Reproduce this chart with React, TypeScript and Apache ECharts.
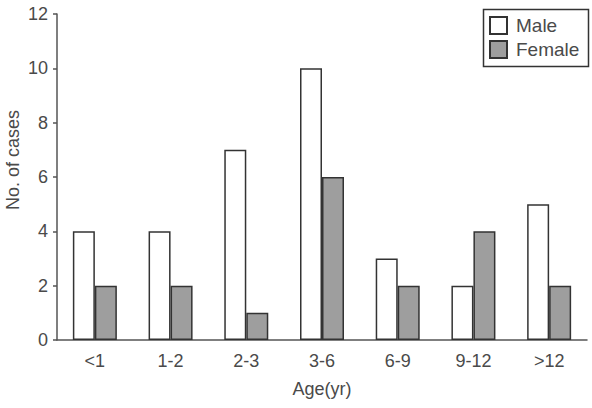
import React, { useEffect, useRef } from "react";
import * as echarts from "echarts";

const categories = ["<1", "1-2", "2-3", "3-6", "6-9", "9-12", ">12"];
const maleValues = [4, 4, 7, 10, 3, 2, 5];
const femaleValues = [2, 2, 1, 6, 2, 4, 2];
const yTicks = { min: 0, max: 12, interval: 2 };
const yTitle = "No. of cases";
const xTitle = "Age(yr)";

const FONT = "Liberation Sans, Arial, sans-serif";
const TEXT = "#4a4a4a";
const AXIS = "#555";

export default function App() {
  const ref = useRef<HTMLDivElement>(null);
  useEffect(() => {
    if (!ref.current) return;
    const chart = echarts.init(ref.current, null, { renderer: "svg" });
    chart.setOption({
      animation: false,
      backgroundColor: "#fff",
      textStyle: { fontFamily: FONT },
      grid: { left: 57, right: 5, top: 14, bottom: 68, containLabel: false, outerBoundsMode: "none" },
      graphic: [
        {
          type: "rect",
          left: 481,
          top: 7,
          shape: { width: 105, height: 57 },
          style: { fill: "none", stroke: "#333", lineWidth: 1.5 },
          z: 10,
        },
        {
          type: "text",
          x: 13,
          y: 160,
          rotation: Math.PI / 2,
          style: {
            text: yTitle,
            fontFamily: FONT,
            fontSize: 18,
            fill: TEXT,
            align: "center",
            verticalAlign: "middle",
          },
        },
      ],
      legend: {
        orient: "vertical",
        left: 489,
        top: 16,
        padding: 0,
        itemGap: 5,
        itemWidth: 17,
        itemHeight: 17,
        icon: "rect",
        textStyle: { fontFamily: FONT, fontSize: 19, color: TEXT, lineHeight: 17, padding: [0, 0, 0, 4] },
        data: ["Male", "Female"],
      },
      xAxis: {
        type: "category",
        data: categories,
        name: xTitle,
        nameLocation: "middle",
        nameGap: 40,
        nameTextStyle: { fontFamily: FONT, fontSize: 18, color: TEXT },
        axisLine: { lineStyle: { color: AXIS, width: 1.5 } },
        axisTick: { inside: true, length: 5, lineStyle: { color: AXIS, width: 1.5 } },
        axisLabel: { fontFamily: FONT, fontSize: 18, color: TEXT, margin: 12 },
      },
      yAxis: {
        type: "value",
        min: yTicks.min,
        max: yTicks.max,
        interval: yTicks.interval,
        axisLine: { show: true, lineStyle: { color: AXIS, width: 1.5 } },
        axisTick: { show: true, length: 4, lineStyle: { color: AXIS, width: 1.5 } },
        axisLabel: { fontFamily: FONT, fontSize: 18, color: TEXT, margin: 9 },
        splitLine: { show: false },
      },
      series: [
        {
          name: "Male",
          type: "bar",
          data: maleValues,
          barWidth: 22,
          barGap: "0%",
          itemStyle: { color: "#fff", borderColor: "#333", borderWidth: 1.5 },
        },
        {
          name: "Female",
          type: "bar",
          data: femaleValues,
          barWidth: 22,
          barGap: "0%",
          itemStyle: { color: "#9e9e9e", borderColor: "#333", borderWidth: 1.5 },
        },
      ],
    });
    return () => chart.dispose();
  }, []);
  return <div ref={ref} style={{ width: 592, height: 408, position: "absolute", left: 0, top: 0 }} />;
}
